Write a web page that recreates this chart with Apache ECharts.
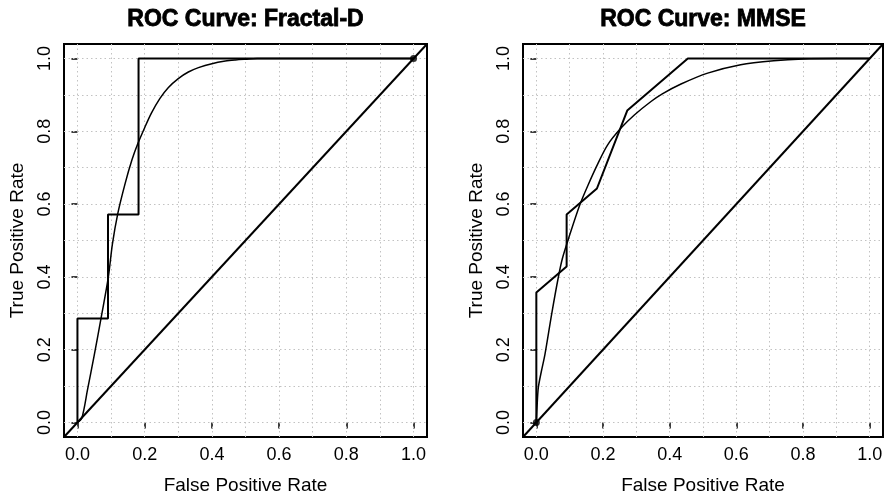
<!DOCTYPE html>
<html>
<head>
<meta charset="utf-8">
<style>
  html, body { margin: 0; padding: 0; background: #fff; }
  #main { width: 884px; height: 496px; }
</style>
<script src="https://cdn.jsdelivr.net/npm/echarts@6/dist/echarts.min.js"></script>
</head>
<body>
<div id="main"></div>
<script>
var chart = echarts.init(document.getElementById('main'));

// axis range (R pads 4% each side) and tick / grid positions
var axisRange = [-0.04, 1.04];
var tickValues = [0, 0.2, 0.4, 0.6, 0.8, 1.0];
var gridValues = [0, 0.1, 0.2, 0.3, 0.4, 0.5, 0.6, 0.7, 0.8, 0.9, 1.0];

var titles = ['ROC Curve: Fractal-D', 'ROC Curve: MMSE'];
var xName = 'False Positive Rate';
var yName = 'True Positive Rate';

// Fractal-D: empirical ROC, smoothed ROC, marked point
var fractalRoc = [[0, 0], [0, 0.2857], [0.0909, 0.2857], [0.0909, 0.5714], [0.1818, 0.5714], [0.1818, 1], [1, 1]];
var fractalSmooth = [[0, 0], [0.013, 0.012], [0.03, 0.09], [0.05, 0.185], [0.07, 0.285], [0.092, 0.40],
  [0.104, 0.49], [0.12, 0.574], [0.142, 0.657], [0.162, 0.721], [0.18, 0.767], [0.20, 0.81],
  [0.22, 0.85], [0.245, 0.89], [0.27, 0.92], [0.30, 0.945], [0.33, 0.963], [0.36, 0.975],
  [0.40, 0.986], [0.44, 0.993], [0.47, 0.996], [0.50, 0.998], [0.535, 1.0], [1, 1]];
var fractalPoint = [[1, 1]];

// MMSE
var mmseRoc = [[0, 0], [0, 0.3571], [0.0909, 0.4286], [0.0909, 0.5714], [0.1818, 0.6429], [0.2727, 0.8571], [0.4545, 1], [1, 1]];
var mmseSmooth = [[0, 0], [0.002, 0.04], [0.006, 0.096], [0.015, 0.14], [0.026, 0.188], [0.046, 0.298],
  [0.066, 0.399], [0.078, 0.45], [0.10, 0.515], [0.13, 0.597], [0.155, 0.652], [0.185, 0.712],
  [0.214, 0.763], [0.254, 0.809], [0.294, 0.845], [0.344, 0.882], [0.378, 0.903], [0.434, 0.930],
  [0.514, 0.960], [0.613, 0.983], [0.712, 0.994], [0.801, 0.999], [0.9, 1.0], [1, 1]];
var mmsePoint = [[0, 0]];

var panels = [
  { roc: fractalRoc, smooth: fractalSmooth, point: fractalPoint },
  { roc: mmseRoc, smooth: mmseSmooth, point: mmsePoint }
];

var font = 'Liberation Sans, Arial, Helvetica, sans-serif';
var grids = [
  { left: 64, top: 44, width: 363, height: 393 },
  { left: 523, top: 44, width: 360, height: 393 }
];

function tickFmt(v) { return v.toFixed(1); }

var xAxes = [], yAxes = [], series = [], titleList = [];
grids.forEach(function (g, i) {
  g.show = true;
  g.borderColor = '#000';
  g.borderWidth = 2;
  g.backgroundColor = 'transparent';
  g.outerBoundsMode = 'none';
  g.containLabel = false;

  titleList.push({
    text: titles[i],
    left: g.left + g.width / 2,
    top: 8,
    padding: 0,
    textAlign: 'center',
    textStyle: {
      fontFamily: font, fontWeight: 'bold', fontSize: 23, color: '#000',
      textBorderColor: '#000', textBorderWidth: 0.8
    }
  });

  var common = {
    type: 'value',
    gridIndex: i,
    min: axisRange[0],
    max: axisRange[1],
    axisLine: { show: false },
    axisTick: { show: true, customValues: tickValues, length: 6, lineStyle: { color: '#000', width: 1.5 } },
    splitLine: { show: false },
    nameLocation: 'middle',
    nameTextStyle: { fontFamily: font, fontSize: 19, color: '#000' }
  };
  xAxes.push(Object.assign({}, common, {
    name: xName,
    nameGap: 39,
    axisLabel: { customValues: tickValues, formatter: tickFmt, fontFamily: font, fontSize: 18, color: '#000', margin: 9 }
  }));
  yAxes.push(Object.assign({}, common, {
    name: yName,
    nameGap: 37,
    axisLabel: { customValues: tickValues, formatter: tickFmt, rotate: 90, fontFamily: font, fontSize: 18, color: '#000', margin: 10 }
  }));

  // dotted background grid
  series.push({
    type: 'line', xAxisIndex: i, yAxisIndex: i, data: [], z: 1,
    markLine: {
      silent: true, z: 1, symbol: ['none', 'none'], label: { show: false },
      lineStyle: { color: '#c2c2c2', width: 1, type: [1.5, 3] },
      data: gridValues.map(function (v) { return { xAxis: v }; })
        .concat(gridValues.map(function (v) { return { yAxis: v }; }))
    }
  });
  // chance diagonal, corner to corner
  series.push({
    type: 'line', xAxisIndex: i, yAxisIndex: i, z: 3, symbol: 'none',
    data: [[axisRange[0], axisRange[0]], [axisRange[1], axisRange[1]]],
    lineStyle: { color: '#000', width: 2 }
  });
  series.push({
    type: 'line', xAxisIndex: i, yAxisIndex: i, z: 3, symbol: 'none',
    data: panels[i].roc, lineStyle: { color: '#000', width: 2 }
  });
  series.push({
    type: 'line', xAxisIndex: i, yAxisIndex: i, z: 3, symbol: 'none', smooth: 0.3,
    data: panels[i].smooth, lineStyle: { color: '#000', width: 1.5 }
  });
  series.push({
    type: 'scatter', xAxisIndex: i, yAxisIndex: i, z: 4, symbolSize: 7,
    data: panels[i].point, itemStyle: { color: '#000' }
  });
});

chart.setOption({
  animation: false,
  backgroundColor: '#fff',
  title: titleList,
  grid: grids,
  xAxis: xAxes,
  yAxis: yAxes,
  series: series
});
</script>
</body>
</html>
